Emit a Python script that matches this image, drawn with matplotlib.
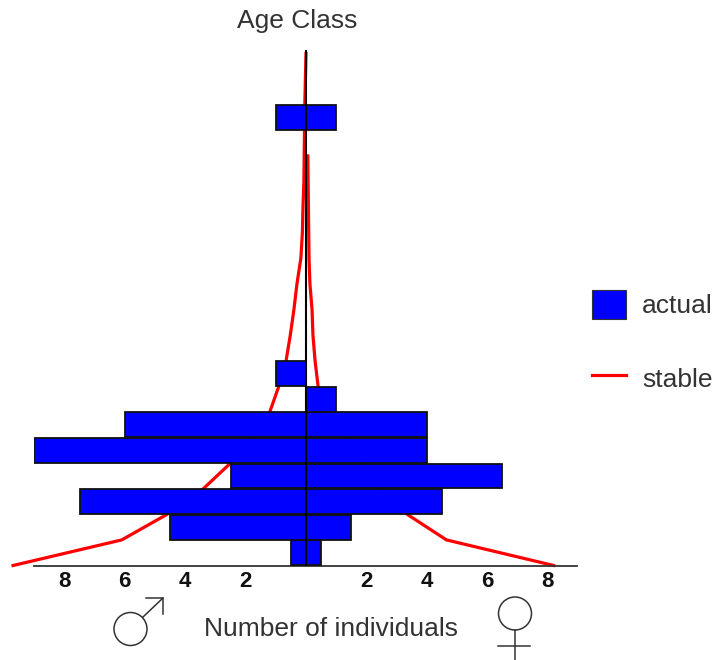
import matplotlib
matplotlib.use('Agg')
import matplotlib.pyplot as plt
from matplotlib.lines import Line2D
from matplotlib.patches import Circle, Patch

plt.rcParams['font.family'] = ['Liberation Sans', 'DejaVu Sans']

# age classes, bars sit between one class and the next
age_class = list(range(18))
male = [0.5, 4.5, 7.5, 2.5, 9, 6, 0, 1, 0, 0, 0, 0, 0, 0, 0, 0, 0, 1]
female = [0.5, 1.5, 4.5, 6.5, 4, 4, 1, 0, 0, 0, 0, 0, 0, 0, 0, 0, 0, 1]

# stable age distribution, read at the class boundaries
stable_age_m = list(range(21))
stable_m = [9.7, 6.1, 4.6, 3.4, 2.5, 1.85, 1.2, 0.9, 0.66, 0.52, 0.4, 0.3,
            0.17, 0.12, 0.1, 0.07, 0.06, 0.05, 0.04, 0.02, 0.0]
stable_age_f = list(range(17))
stable_f = [8.2, 4.65, 3.35, 2.5, 1.85, 1.35, 0.9, 0.4, 0.3, 0.23, 0.2, 0.13,
            0.1, 0.09, 0.08, 0.07, 0.06]

ticks = [-8, -6, -4, -2, 2, 4, 6, 8]
tick_labels = ['8', '6', '4', '2', '2', '4', '6', '8']

W, H = 717, 660
fig = plt.figure(figsize=(W / 100, H / 100), dpi=100)
ax = fig.add_axes([34 / W, 1 - 565.5 / H, (577 - 34) / W, (565.5 - 50) / H])
ax.set_xlim(-9.007, 8.974)
ax.set_ylim(0, 20.14)

# red lines go under the bars
ax.plot([-v for v in stable_m], stable_age_m, color='#ff0000', lw=2.3,
        clip_on=False, zorder=2, solid_joinstyle='miter')
ax.plot(stable_f, stable_age_f, color='#ff0000', lw=2.3,
        clip_on=False, zorder=2, solid_joinstyle='miter')

bottoms = [a + 0.015 for a in age_class]
for b, m, f in zip(bottoms, male, female):
    if m > 0:
        ax.barh(b, -m, height=0.97, align='edge', color='#0000ff',
                edgecolor='#111111', linewidth=1.3, zorder=3)
    if f > 0:
        ax.barh(b, f, height=0.97, align='edge', color='#0000ff',
                edgecolor='#111111', linewidth=1.3, zorder=3)

ax.axvline(0, color='black', lw=1.5, zorder=4)

for s in ['top', 'left', 'right']:
    ax.spines[s].set_visible(False)
ax.spines['bottom'].set_color('#333333')
ax.spines['bottom'].set_linewidth(1.3)
ax.patch.set_visible(False)
ax.set_yticks([])
ax.set_xticks(ticks)
ax.set_xticklabels(tick_labels, fontsize=16, fontweight='bold', color='#111111')
ax.tick_params(axis='x', length=0, pad=4)

fig.text(297 / W, 1 - 21 / H, 'Age Class', fontsize=19, color='#333333',
         ha='center', va='center')
fig.text(331 / W, 1 - 629 / H, 'Number of individuals', fontsize=19,
         color='#333333', ha='center', va='center')

handles = [Patch(facecolor='#0000ff', edgecolor='#333333', linewidth=0.8),
           Line2D([0], [0], color='#ff0000', lw=2.3)]
fig.legend(handles, ['actual', 'stable'], frameon=False, fontsize=19,
           loc='center left', bbox_to_anchor=(592 / W, 1 - 341 / H),
           borderaxespad=0, borderpad=0, handlelength=1.3, handleheight=1.3,
           handletextpad=0.6, labelspacing=1.7, labelcolor='#333333')

# male and female signs on an overlay in pixel coordinates
over = fig.add_axes([0, 0, 1, 1])
over.set_xlim(0, W)
over.set_ylim(H, 0)
over.axis('off')
sign = dict(color='#333333', lw=1.1)
over.add_patch(Circle((130.5, 629), 16.5, fill=False, edgecolor='#333333', lw=1.1))
over.plot([143, 163, 146], [617, 598, 598], **sign)
over.plot([163, 163], [598, 614], **sign)
over.add_patch(Circle((515, 613.5), 16.5, fill=False, edgecolor='#333333', lw=1.1))
over.plot([515, 515], [630, 660], **sign)
over.plot([498, 530], [645.5, 645.5], **sign)

fig.savefig('out.png', dpi=100)
